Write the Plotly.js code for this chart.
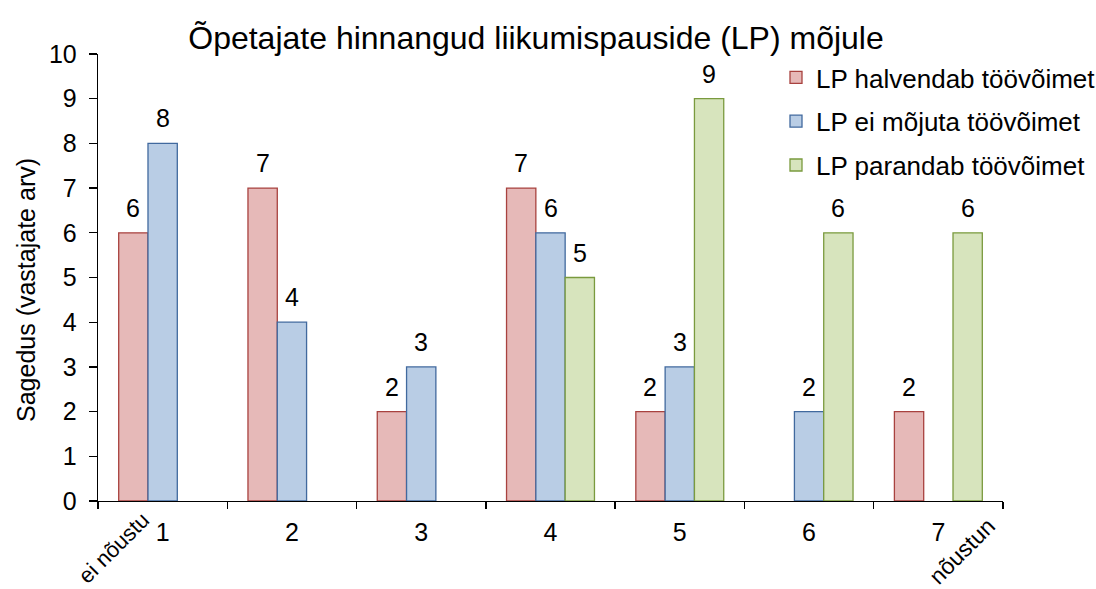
<!DOCTYPE html>
<html>
<head>
<meta charset="utf-8">
<script src="https://cdn.plot.ly/plotly-3.0.1.min.js"></script>
<style>html,body{margin:0;padding:0;background:#fff;}#chart{width:1096px;height:589px;}</style>
</head>
<body>
<div id="chart"></div>
<script>
const categories = ['1', '2', '3', '4', '5', '6', '7'];
const halvendab = [6, 7, 2, 7, 2, null, 2];
const eiMojuta = [8, 4, 3, 6, 3, 2, null];
const parandab = [null, null, null, 5, 9, 6, 6];
const seriesNames = ['LP halvendab töövõimet', 'LP ei mõjuta töövõimet', 'LP parandab töövõimet'];
const titleText = 'Õpetajate hinnangud liikumispauside (LP) mõjule';
const yTitle = 'Sagedus (vastajate arv)';
const leftEnd = 'ei nõustu';
const rightEnd = 'nõustun';

const FONT = 'Liberation Sans, Arial, sans-serif';
const fills = ['#E6B9B8', '#B9CDE5', '#D7E4BD'];
const borders = ['#A8423F', '#41699E', '#7A9A3E'];
const allSeries = [halvendab, eiMojuta, parandab];
const bargap = 0.32;
const barW = (1 - bargap) / allSeries.length;

const traces = allSeries.map((vals, i) => ({
  type: 'bar',
  name: seriesNames[i],
  legendgroup: 'g' + i,
  x: categories,
  y: vals,
  marker: {color: fills[i], line: {color: borders[i], width: 1.3}},
  hoverinfo: 'x+y+name'
}));

const annotations = [];
allSeries.forEach((vals, i) => {
  vals.forEach((v, j) => {
    if (v === null) return;
    annotations.push({
      x: j + (i - 1) * barW, y: v, xref: 'x', yref: 'y',
      text: String(v), showarrow: false, xanchor: 'center', yanchor: 'bottom', yshift: 9,
      font: {family: FONT, size: 25, color: '#000'}
    });
  });
});
annotations.push({
  xref: 'paper', yref: 'paper', x: (113 - 98) / 905, y: (501 - 548) / 447,
  xanchor: 'center', yanchor: 'middle',
  text: leftEnd, showarrow: false, textangle: -45,
  font: {family: FONT, size: 22, color: '#000'}
});
annotations.push({
  xref: 'paper', yref: 'paper', x: (962 - 98) / 905, y: (501 - 551) / 447,
  xanchor: 'center', yanchor: 'middle',
  text: rightEnd, showarrow: false, textangle: -45,
  font: {family: FONT, size: 23, color: '#000'}
});
annotations.push({
  xref: 'paper', yref: 'paper', x: (26 - 98) / 905, y: (501 - 290) / 447,
  xanchor: 'center', yanchor: 'middle',
  text: yTitle, showarrow: false, textangle: -90,
  font: {family: FONT, size: 25, color: '#000'}
});

const layout = {
  width: 1096, height: 589,
  margin: {l: 98, r: 93, t: 54, b: 88, autoexpand: false},
  paper_bgcolor: '#fff', plot_bgcolor: '#fff',
  font: {family: FONT, color: '#000'},
  title: {text: titleText, font: {family: FONT, size: 32, color: '#000'}, x: 536 / 1096, xanchor: 'center', y: 1 - 38 / 589, yanchor: 'middle'},
  barmode: 'group', bargap: bargap, bargroupgap: 0,
  showlegend: true,
  legend: {
    x: (776 - 98) / 905, y: (501 - 54) / 447, xanchor: 'left', yanchor: 'top',
    font: {family: FONT, size: 26, color: '#000'},
    bgcolor: 'rgba(0,0,0,0)', traceorder: 'grouped', tracegroupgap: 7
  },
  xaxis: {
    type: 'category', range: [-0.5, 6.5], tickson: 'boundaries',
    showline: true, linecolor: '#000', linewidth: 1.3,
    ticks: 'outside', ticklen: 7, tickwidth: 1.3, tickcolor: '#000',
    ticklabelstandoff: 9,
    tickfont: {family: FONT, size: 25, color: '#000'},
    showgrid: false, zeroline: false, fixedrange: true
  },
  yaxis: {
    range: [0, 10], dtick: 1,
    showline: true, linecolor: '#000', linewidth: 1.3,
    ticks: 'outside', ticklen: 8, tickwidth: 1.3, tickcolor: '#000',
    ticklabelstandoff: 7,
    tickfont: {family: FONT, size: 25, color: '#000'},
    showgrid: false, zeroline: false, fixedrange: true
  },
  annotations: annotations
};

Plotly.newPlot('chart', traces, layout, {displayModeBar: false, staticPlot: true});
</script>
</body>
</html>
